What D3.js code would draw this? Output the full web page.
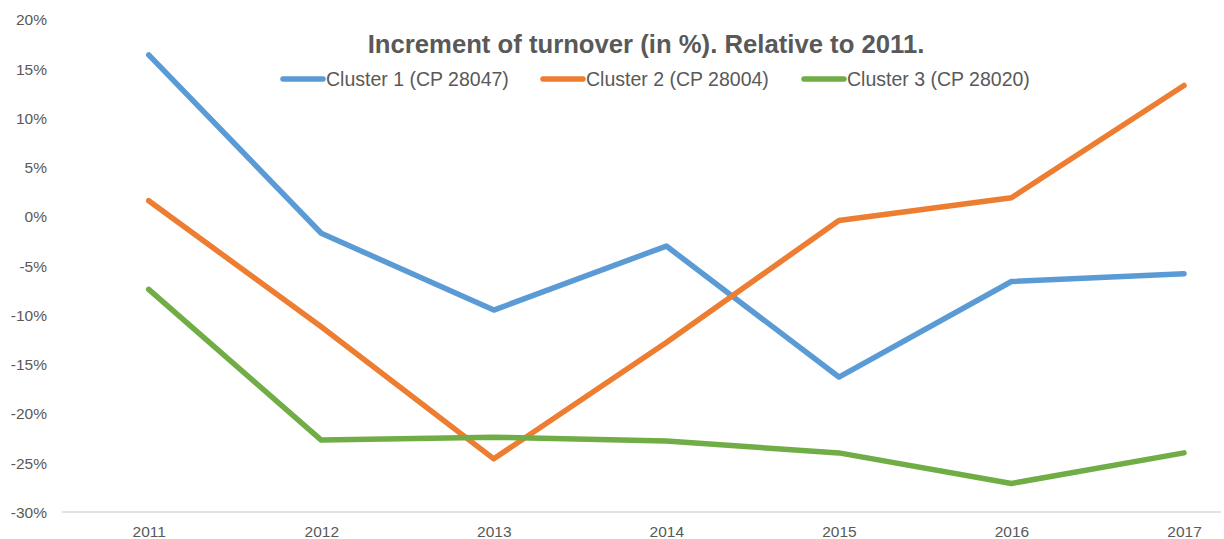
<!DOCTYPE html>
<html>
<head>
<meta charset="utf-8">
<script src="https://cdn.jsdelivr.net/npm/d3@7"></script>
<style>
  html, body { margin: 0; padding: 0; background: #fff; }
  svg { display: block; font-family: "Liberation Sans", Arial, sans-serif; }
</style>
</head>
<body>
<svg id="chart" width="1224" height="539"></svg>
<script>
// Turnover increment per cluster, in percent, relative to 2011
const years = ["2011", "2012", "2013", "2014", "2015", "2016", "2017"];
const cluster1 = [16.4, -1.7, -9.5, -3.0, -16.3, -6.6, -5.8];
const cluster2 = [1.6, -11.2, -24.6, -12.8, -0.4, 1.9, 13.3];
const cluster3 = [-7.4, -22.7, -22.4, -22.8, -24.0, -27.1, -24.0];
const seriesNames = ["Cluster 1 (CP 28047)", "Cluster 2 (CP 28004)", "Cluster 3 (CP 28020)"];
const seriesColors = ["#5B9BD5", "#ED7D31", "#70AD47"];
const yTicks = [20, 15, 10, 5, 0, -5, -10, -15, -20, -25, -30];
const titleText = "Increment of turnover (in %). Relative to 2011.";

const svg = d3.select("#chart");

const x = d3.scalePoint().domain(years).range([148.7, 1184]);
const y = d3.scaleLinear().domain([-30, 20]).range([512, 19.5]);

// Category axis baseline
const xAxis = d3.axisBottom(x).tickSize(0).tickPadding(0);
const gx = svg.append("g").attr("transform", `translate(0,${y(-30)})`).call(xAxis);
gx.select(".domain").remove();
gx.append("line")
  .attr("x1", 62).attr("x2", 1221)
  .attr("stroke", "#d9d9d9").attr("stroke-width", 1.3);
gx.selectAll(".tick text")
  .attr("fill", "#595959")
  .attr("font-size", 15.5)
  .attr("dy", 0)
  .attr("y", 25);

// Value axis labels only
const yAxis = d3.axisLeft(y).tickValues(yTicks).tickSize(0).tickPadding(0)
  .tickFormat(d => d + "%");
const gy = svg.append("g").attr("transform", "translate(47,0)").call(yAxis);
gy.select(".domain").remove();
gy.selectAll(".tick text")
  .attr("fill", "#595959")
  .attr("font-size", 15.5)
  .attr("dy", "0.35em");

// Series lines
const line = d3.line()
  .x((d, i) => x(years[i]))
  .y(d => y(d));

[cluster1, cluster2, cluster3].forEach((vals, k) => {
  svg.append("path")
    .datum(vals)
    .attr("d", line)
    .attr("fill", "none")
    .attr("stroke", seriesColors[k])
    .attr("stroke-width", 5.5)
    .attr("stroke-linecap", "round")
    .attr("stroke-linejoin", "round");
});

// Title
svg.append("text")
  .attr("x", 646).attr("y", 53)
  .attr("text-anchor", "middle")
  .attr("font-size", 25.7)
  .attr("font-weight", "bold")
  .attr("fill", "#595959")
  .text(titleText);

// Legend
const legendX = [283, 543, 804];
seriesNames.forEach((name, k) => {
  const g = svg.append("g").attr("transform", `translate(${legendX[k]},79)`);
  g.append("line")
    .attr("x1", 0).attr("x2", 40)
    .attr("stroke", seriesColors[k])
    .attr("stroke-width", 5.5)
    .attr("stroke-linecap", "round");
  g.append("text")
    .attr("x", 43).attr("y", 7)
    .attr("font-size", 19.5)
    .attr("fill", "#595959")
    .text(name);
});
</script>
</body>
</html>
